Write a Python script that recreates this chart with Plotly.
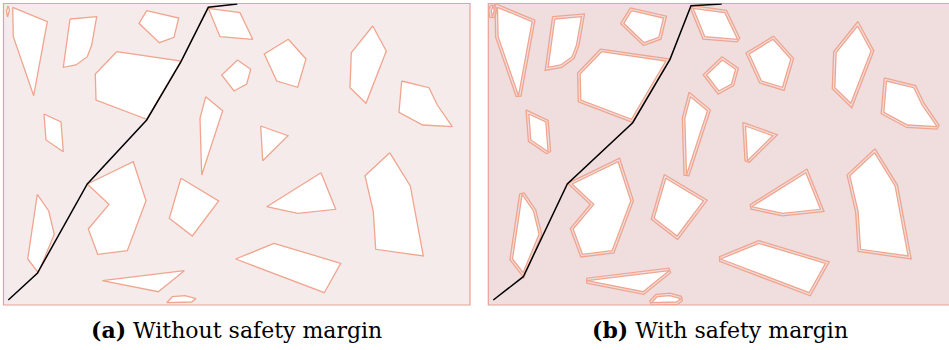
import numpy as np
import plotly.graph_objects as go

# Obstacle polygons (x, y) in workspace units, y measured downward from the top edge
obstacles = [
    [(8, 6), (9.5, 10), (7.5, 17), (6.5, 11)],
    [(12.7, 7.3), (47.3, 21.7), (33.7, 95.7), (13.3, 36.7)],
    [(70, 19), (96.7, 16.7), (91.7, 45), (87.3, 56.7), (76, 65), (63.3, 67.3)],
    [(146.7, 10.7), (178.7, 18), (174, 37.3), (159.3, 42.7), (139, 23.3)],
    [(116.7, 51.7), (181, 61), (146.7, 119.3), (96, 100), (95.3, 74)],
    [(208.3, 8.3), (240, 12.7), (252.7, 39.3), (220, 36.7)],
    [(237.5, 60), (250.7, 69.3), (246.7, 84), (234, 91), (221.7, 75)],
    [(205.7, 96.7), (222.7, 110.7), (201.7, 175), (200, 118.3)],
    [(44, 114), (61, 122), (63.3, 151.7), (46, 140)],
    [(288.3, 39.3), (306, 59), (297.7, 87.3), (276.7, 81), (264.3, 54)],
    [(372.7, 26), (386.3, 51), (366, 103.3), (350, 87.7), (351.3, 52.7)],
    [(401.7, 81), (429, 87.7), (437.3, 105), (452.3, 126.7), (422.7, 125), (399, 112.3)],
    [(260.7, 126), (288, 135.7), (262.7, 160.7)],
    [(389.7, 152.7), (410.3, 186), (423.3, 256), (375.7, 249.3), (373.3, 211.7), (365, 175.7)],
    [(37.3, 194.3), (48.7, 211), (54.3, 234.3), (38.3, 272.7), (27.7, 259)],
    [(87.3, 184), (133.3, 161.7), (146, 200.7), (127.3, 250.7), (97.7, 254.3), (88.3, 229), (109, 204.3)],
    [(181, 178.3), (218.7, 201), (192.3, 236), (169.3, 218.3)],
    [(102.3, 280.7), (184.3, 270.7), (158.3, 291.7)],
    [(166.7, 302.7), (172.3, 296.7), (185, 295.7), (196, 298.7), (191.7, 302)],
    [(321, 172.7), (335.7, 209.3), (297.7, 213.3), (266.7, 206.7)],
    [(274, 243.3), (340.7, 263.3), (324.3, 292.7), (235.7, 259)],
]

# Planned paths
path_a_x = [8.3, 37.3, 87.3, 146.7, 181, 208.3, 237.3]
path_a_y = [300, 273.3, 184, 120, 61.7, 7.3, 4]
path_b_x = [8.5, 38.5, 82.5, 147.9, 185.2, 206.2, 236.9]
path_b_y = [300, 276.7, 184, 122.7, 59.3, 5.7, 4]

captions = ["<b>(a)</b> Without safety margin", "<b>(b)</b> With safety margin"]

MARGIN = 2.5
X_MIN, X_MAX_A, X_MAX_B = 3.5, 470.0, 464.2
Y_TOP, Y_BOT = 3.5, 305.0

EDGE = "#F0A58E"
FRAME = "#E8A294"
BG_A = "#F6EBEB"
BG_B = "#F0DDDE"


def offset_polygon(pts, d):
    """Grow a polygon outward by d, mitred corners with a bevel on sharp tips."""
    p = np.asarray(pts, dtype=float)
    n = len(p)
    area = 0.5 * np.sum(p[:, 0] * np.roll(p[:, 1], -1) - np.roll(p[:, 0], -1) * p[:, 1])
    sgn = 1.0 if area > 0 else -1.0
    normals = []
    for i in range(n):
        a, b = p[i], p[(i + 1) % n]
        e = b - a
        nv = np.array([e[1], -e[0]]) * sgn
        normals.append(nv / np.linalg.norm(nv))
    out = []
    for i in range(n):
        n_prev = normals[i - 1]
        n_cur = normals[i]
        bis = n_prev + n_cur
        nb = np.linalg.norm(bis)
        if nb < 1e-9:
            out.append(p[i] + n_cur * d)
            continue
        bis = bis / nb
        cos_half = float(np.dot(bis, n_cur))
        miter = d / max(cos_half, 1e-6)
        if miter > 2.0 * d:
            out.append(p[i] + n_prev * d)
            out.append(p[i] + n_cur * d)
        else:
            out.append(p[i] + bis * miter)
    return np.array(out)


fig = go.Figure()


def add_poly(xs, ys, xa, ya, fill):
    fig.add_trace(go.Scatter(
        x=list(xs) + [xs[0]], y=list(ys) + [ys[0]],
        mode="lines", xaxis=xa, yaxis=ya,
        fill="toself" if fill else "none", fillcolor="white",
        line=dict(color=EDGE, width=1.3),
        hoverinfo="skip", showlegend=False,
    ))


# Panel (a): raw obstacles
for poly in obstacles:
    xs = [v[0] for v in poly]
    ys = [v[1] for v in poly]
    add_poly(xs, ys, "x", "y", True)

fig.add_trace(go.Scatter(x=path_a_x, y=path_a_y, mode="lines", xaxis="x", yaxis="y",
                         line=dict(color="black", width=1.5), showlegend=False))

# Panel (b): obstacles with the inflated safety boundary
for poly in obstacles:
    grown = offset_polygon(poly, MARGIN)
    add_poly(grown[:, 0], grown[:, 1], "x2", "y2", False)
    xs = [v[0] for v in poly]
    ys = [v[1] for v in poly]
    add_poly(xs, ys, "x2", "y2", True)

fig.add_trace(go.Scatter(x=path_b_x, y=path_b_y, mode="lines", xaxis="x2", yaxis="y2",
                         line=dict(color="black", width=1.5), showlegend=False))

W, H = 949, 350
ydom = [(H - Y_BOT) / H, (H - Y_TOP) / H]
xdom_a = [3.5 / W, 470.0 / W]
xdom_b = [488.3 / W, 1.0]

ax = dict(visible=False, showgrid=False, zeroline=False, fixedrange=True)
fig.update_layout(
    width=W, height=H,
    margin=dict(l=0, r=0, t=0, b=0),
    paper_bgcolor="white", plot_bgcolor="rgba(0,0,0,0)",
    xaxis=dict(ax, domain=xdom_a, range=[X_MIN, X_MAX_A]),
    yaxis=dict(ax, domain=ydom, range=[Y_BOT, Y_TOP]),
    xaxis2=dict(ax, domain=xdom_b, range=[X_MIN, X_MAX_B]),
    yaxis2=dict(ax, domain=ydom, range=[Y_BOT, Y_TOP]),
    shapes=[
        dict(type="rect", xref="x domain", yref="y domain", x0=0, x1=1, y0=0, y1=1,
             fillcolor=BG_A, line=dict(color=FRAME, width=1.2), layer="below"),
        dict(type="rect", xref="x2 domain", yref="y2 domain", x0=0, x1=1.02, y0=0, y1=1,
             fillcolor=BG_B, line=dict(color=FRAME, width=1.2), layer="below"),
    ],
)

for cx, text in zip([(3.5 + 470) / 2 / W, 720.0 / W], captions):
    fig.add_annotation(x=cx, y=(H - 330) / H, xref="paper", yref="paper",
                       text=text, showarrow=False, xanchor="center", yanchor="middle",
                       font=dict(family="DejaVu Serif", size=22, color="black"))

fig.write_html("out.html")
